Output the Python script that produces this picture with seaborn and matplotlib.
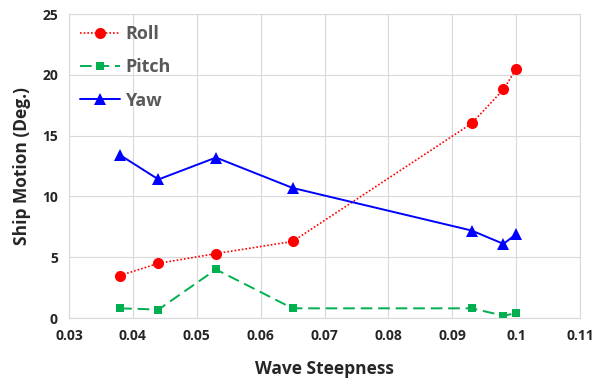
import numpy as np
import pandas as pd
import seaborn as sns
import matplotlib.pyplot as plt

# data
steepness = [0.038, 0.044, 0.053, 0.065, 0.093, 0.098, 0.100]
roll = [3.5, 4.5, 5.3, 6.3, 16.0, 18.8, 20.5]
pitch = [0.8, 0.7, 4.0, 0.8, 0.8, 0.2, 0.4]
yaw = [13.4, 11.4, 13.2, 10.7, 7.2, 6.1, 6.9]

x_ticks = [0.03, 0.04, 0.05, 0.06, 0.07, 0.08, 0.09, 0.10, 0.11]
x_ticklabels = ["0.03", "0.04", "0.05", "0.06", "0.07", "0.08", "0.09", "0.1", "0.11"]
y_ticks = [0, 5, 10, 15, 20, 25]

sns.set_style("whitegrid")
plt.rcParams['font.family'] = ['Open Sans', 'DejaVu Sans']

fig = plt.figure(figsize=(5.95, 3.8), dpi=100)
ax = fig.add_axes([0.116, 0.163, 0.859, 0.8])

df = pd.DataFrame({"x": steepness, "Roll": roll, "Pitch": pitch, "Yaw": yaw})

sns.lineplot(data=df, x="x", y="Roll", ax=ax, color="#ff0000", linestyle=(0, (1, 1.2)),
             linewidth=1.2, marker="o", markersize=8, markeredgewidth=0, label="Roll")
sns.lineplot(data=df, x="x", y="Pitch", ax=ax, color="#00b050", linestyle=(0, (6, 3)),
             linewidth=1.4, marker="s", markersize=6, markeredgewidth=0, label="Pitch")
sns.lineplot(data=df, x="x", y="Yaw", ax=ax, color="#0000ff", linestyle="-",
             linewidth=1.4, marker="^", markersize=9, markeredgewidth=0, label="Yaw")

ax.set_xlim(0.03, 0.11)
ax.set_ylim(0, 25)
ax.set_xticks(x_ticks)
ax.set_xticklabels(x_ticklabels)
ax.set_yticks(y_ticks)
ax.tick_params(axis='both', labelsize=10, length=0, pad=8)
for lab in ax.get_xticklabels() + ax.get_yticklabels():
    lab.set_fontweight('bold')

ax.grid(True, color="#d9d9d9", linewidth=0.8)
for spine in ax.spines.values():
    spine.set_color("#d9d9d9")
    spine.set_linewidth(0.8)

ax.set_xlabel("Wave Steepness", fontsize=12.5, fontweight='bold', labelpad=12)
ax.set_ylabel("Ship Motion (Deg.)", fontsize=12.5, fontweight='bold', labelpad=8)

leg = ax.legend(loc="upper left", frameon=False, fontsize=13, handlelength=2.2,
                handletextpad=0.3, labelspacing=0.85, borderaxespad=0.2)
for t in leg.get_texts():
    t.set_fontweight('bold')
    t.set_color("#595959")

fig.savefig("out.png", dpi=100)
